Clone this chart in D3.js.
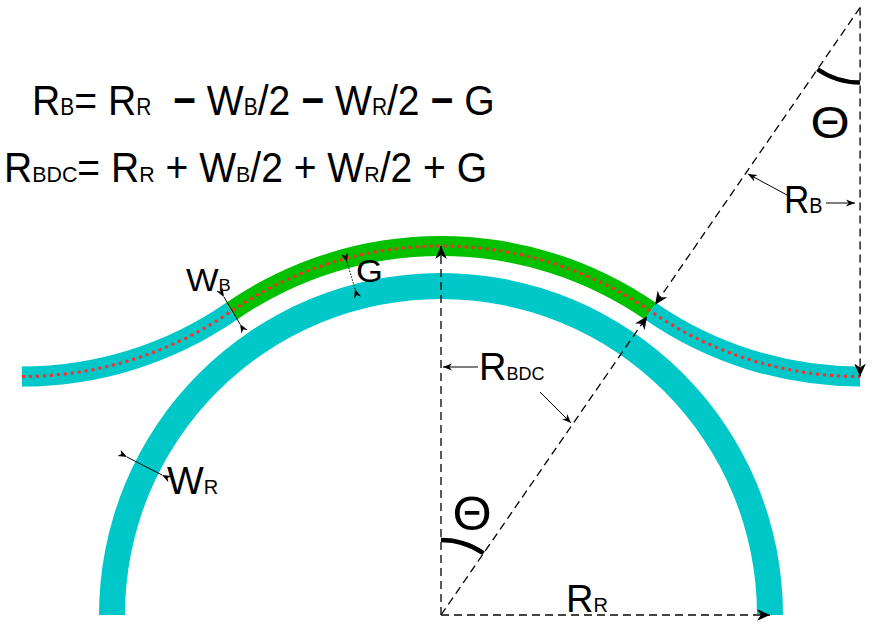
<!DOCTYPE html>
<html>
<head>
<meta charset="utf-8">
<script src="https://cdn.jsdelivr.net/npm/d3@7"></script>
<style>
html,body{margin:0;padding:0;background:#fff;}
svg{display:block;font-family:"Liberation Sans",Arial,sans-serif;}
</style>
</head>
<body>
<svg id="c" width="874" height="632"></svg>
<script>
// ---- geometry data (diagram units, origin = ring centre, y up) ----
const ringRadius = [329];        // R_R
const ringWidth = [26];          // W_R
const busWidth = [20];           // W_B
const gap = [17];                // G
const thetaDeg = [34.6];         // θ
const eq1 = [["R",""],["B","s"],["= R",""],["R","s"],["  ",""],["−","b"],[" W",""],["B","s"],["/2 ",""],["−","b"],[" W",""],["R","s"],["/2 ",""],["−","b"],[" G",""]];
const eq2 = [["R",""],["BDC","s"],["= R",""],["R","s"],[" + W",""],["B","s"],["/2 + W",""],["R","s"],["/2 + G",""]];

const R_R = ringRadius[0], W_R = ringWidth[0], W_B = busWidth[0], G = gap[0];
const R_BDC = R_R + W_B/2 + W_R/2 + G;
const th = thetaDeg[0]*Math.PI/180;
const R_Bend = R_BDC;
const D = R_BDC + R_Bend;
const vx = D*Math.sin(th), vy = D*Math.cos(th);

const x = d3.scaleLinear().domain([-441, 433]).range([0, 874]);
const y = d3.scaleLinear().domain([615, -17]).range([0, 632]);

const svg = d3.select("#c");
const defs = svg.append("defs");
defs.append("marker").attr("id","arr").attr("viewBox","0 0 10 10").attr("refX",10).attr("refY",5)
  .attr("markerWidth",9).attr("markerHeight",9).attr("markerUnits","userSpaceOnUse").attr("orient","auto-start-reverse")
  .append("path").attr("d","M0,1 L10,5 L0,9 L3,5 z").attr("fill","#000");
defs.append("marker").attr("id","arrBig").attr("viewBox","0 0 10 10").attr("refX",10).attr("refY",5)
  .attr("markerWidth",13).attr("markerHeight",13).attr("markerUnits","userSpaceOnUse").attr("orient","auto-start-reverse")
  .append("path").attr("d","M0,0.5 L10,5 L0,9.5 L3,5 z").attr("fill","#000");
defs.append("marker").attr("id","arrIn").attr("viewBox","0 0 10 10").attr("refX",0).attr("refY",5)
  .attr("markerWidth",9).attr("markerHeight",9).attr("markerUnits","userSpaceOnUse").attr("orient","auto-start-reverse")
  .append("path").attr("d","M10,1 L0,5 L10,9 L7,5 z").attr("fill","#000");

const cyan = "#00C8C8", green = "#00C000";
const cx = x(0), cy = y(0);
const arc = d3.arc();

// ring (half annulus)
svg.append("path").attr("transform",`translate(${cx},${cy})`)
  .attr("d", arc({innerRadius:R_R-W_R/2, outerRadius:R_R+W_R/2, startAngle:-Math.PI/2, endAngle:Math.PI/2}))
  .attr("fill", cyan);
// bus: coupling section (green)
svg.append("path").attr("transform",`translate(${cx},${cy})`)
  .attr("d", arc({innerRadius:R_BDC-W_B/2, outerRadius:R_BDC+W_B/2, startAngle:-th, endAngle:th}))
  .attr("fill", green);
// bus S-bends (cyan)
const rvx = x(vx), rvy = y(vy), lvx = x(-vx);
svg.append("path").attr("transform",`translate(${rvx},${rvy})`)
  .attr("d", arc({innerRadius:R_Bend-W_B/2, outerRadius:R_Bend+W_B/2, startAngle:Math.PI, endAngle:Math.PI+th}))
  .attr("fill", cyan);
svg.append("path").attr("transform",`translate(${lvx},${rvy})`)
  .attr("d", arc({innerRadius:R_Bend-W_B/2, outerRadius:R_Bend+W_B/2, startAngle:Math.PI-th, endAngle:Math.PI}))
  .attr("fill", cyan);

// red dotted centreline
const p = d3.path();
p.moveTo(lvx, rvy + R_Bend);
p.arc(lvx, rvy, R_Bend, Math.PI/2, Math.PI/2 - th, true);
p.arc(cx, cy, R_BDC, -Math.PI/2 - th, -Math.PI/2 + th, false);
p.arc(rvx, rvy, R_Bend, Math.PI/2 + th, Math.PI/2, true);
svg.append("path").attr("d", p.toString()).attr("fill","none")
  .attr("stroke","#ff2a2a").attr("stroke-width",3).attr("stroke-dasharray","3,4");

// dashed construction lines
const dash = (x1,y1,x2,y2,mk,col,w) => svg.append("line").attr("x1",x1).attr("y1",y1).attr("x2",x2).attr("y2",y2)
  .attr("stroke",col||"#000").attr("stroke-width",w||1.3).attr("stroke-dasharray","8,5")
  .attr("marker-end", mk ? "url(#arrBig)" : null);
dash(cx, cy, cx, y(R_BDC), true);
dash(cx, cy, x(R_R), cy, true, "#444", 2);
const ix = x(R_BDC*Math.sin(th)), iy = y(R_BDC*Math.cos(th));
const ux = (ix-cx)/R_BDC, uy = (iy-cy)/R_BDC;
dash(cx, cy, ix - ux*6, iy - uy*6, true);
dash(rvx, rvy, ix + ux*8, iy + uy*8, true);
dash(rvx, rvy, rvx, rvy + R_Bend, true);

// theta arcs
const ta = 75;
svg.append("path").attr("transform",`translate(${cx},${cy})`)
  .attr("d", d3.arc()({innerRadius:ta, outerRadius:ta, startAngle:0, endAngle:th}))
  .attr("fill","none").attr("stroke","#000").attr("stroke-width",4.5);
svg.append("path").attr("transform",`translate(${rvx},${rvy})`)
  .attr("d", d3.arc()({innerRadius:ta, outerRadius:ta, startAngle:Math.PI, endAngle:Math.PI+th}))
  .attr("fill","none").attr("stroke","#000").attr("stroke-width",4.5);

// annotation arrows
const ann = (x1,y1,x2,y2) => svg.append("line").attr("x1",x1).attr("y1",y1).attr("x2",x2).attr("y2",y2)
  .attr("stroke","#000").attr("stroke-width",1).attr("marker-end","url(#arr)");
ann(787,195,748,174);
ann(826,203,855,203);
ann(478,367,443,367);
ann(540,392,571,423);
const dim = (x1,y1,x2,y2,dashed) => svg.append("line").attr("x1",x1).attr("y1",y1).attr("x2",x2).attr("y2",y2)
  .attr("stroke","#000").attr("stroke-width",1).attr("stroke-dasharray",dashed?"1.5,1.5":null)
  .attr("marker-start","url(#arrIn)").attr("marker-end","url(#arrIn)");
dim(224,297,240,324);
dim(347,262,355,289,true);
dim(127,457,162,475);

// texts
function rich(parts, x0, yb, big, small, sx, sy) {
  const t = svg.append("text").attr("transform",`translate(${x0},${yb}) scale(${sx||1},${sy||1})`)
    .attr("fill","#000").attr("xml:space","preserve");
  parts.forEach(([s,k]) => {
    t.append("tspan").text(s)
      .attr("font-size", k==="s" ? small : big)
      .attr("font-weight", k==="b" ? "bold" : null);
  });
  return t;
}
rich(eq1, 32, 115, 43, 23, 0.91, 1);
rich(eq2, 4, 182, 42, 23, 0.93, 1);
rich([["W",""],["B","s"]], 186, 291, 32, 17, 1.08, 1);
rich([["G",""]], 356, 282, 32, 20, 1.08, 1);
rich([["R",""],["B","s"]], 784, 213, 39, 22, 0.9, 1);
rich([["R",""],["BDC","s"]], 479, 380, 38, 18, 1, 1);
rich([["W",""],["R","s"]], 167, 494, 39, 20, 1, 1);
rich([["R",""],["R","s"]], 566, 612, 38, 20, 1, 1);
svg.append("text").attr("transform","translate(830,138) scale(1.12,1)").attr("text-anchor","middle").attr("font-size",45).text("Θ");
svg.append("text").attr("transform","translate(472,530) scale(1.05,1)").attr("text-anchor","middle").attr("font-size",48).text("Θ");
</script>
</body>
</html>
